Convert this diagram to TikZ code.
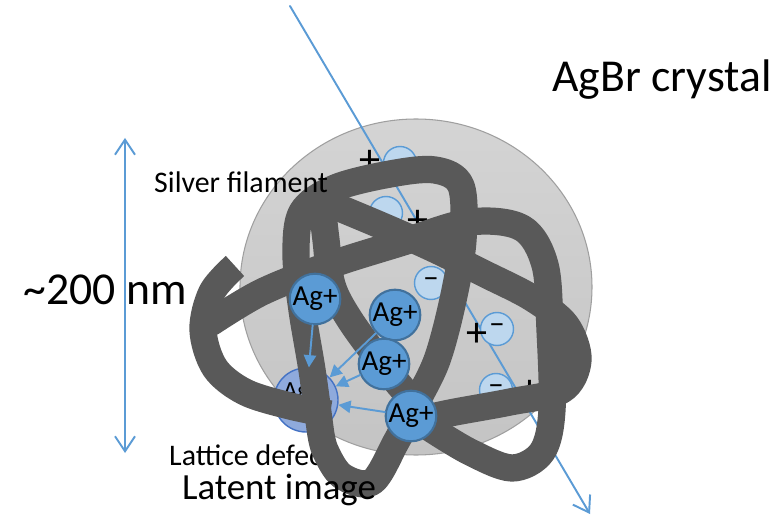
\documentclass[tikz,border=0pt]{standalone}
\usepackage{fontspec}
\setmainfont{Carlito}
\usetikzlibrary{arrows.meta}
\definecolor{rayblue}{HTML}{5B9BD5}
\definecolor{ionedge}{HTML}{41719C}
\definecolor{holeblue}{HTML}{BDD7EE}
\definecolor{latentfill}{HTML}{8FAADC}
\definecolor{latentedge}{HTML}{4472C4}
\definecolor{filgray}{HTML}{595959}
\definecolor{grainhi}{HTML}{D4D4D4}
\definecolor{grainlo}{HTML}{C4C4C4}

\begin{document}
\begin{tikzpicture}[x=0.02cm,y=-0.02cm,line cap=round,
  ion/.style={circle,draw=ionedge,fill=rayblue,line width=1.2pt,minimum size=0.92cm,inner sep=0pt,font=\fontsize{16.5}{16.5}\selectfont},
  hole/.style={circle,draw=rayblue,fill=holeblue,line width=0.8pt,minimum size=0.66cm,inner sep=0pt,font=\fontsize{18}{18}\selectfont},
  sign/.style={inner sep=0pt,font=\fontsize{24}{24}\selectfont},
  filament/.style={draw=filgray,line width=15.5pt,line join=round},
  ray/.style={draw=rayblue,line width=1.1pt},
  drift/.style={draw=rayblue,line width=1.1pt,-{Triangle[length=7pt,width=7pt]}}]
\useasboundingbox (0,0) rectangle (782,517);

% crystal grain and the light path through it
\shade[top color=grainhi,bottom color=grainlo,draw=gray!75,line width=0.6pt]
  (416,287) ellipse [x radius=176, y radius=168];
\coordinate (rayin) at (290,6);
\coordinate (rayout) at (590,514);
\draw[ray,-{Straight Barb[length=3mm,width=4mm]}] (rayin) -- (rayout);

% electron / hole pairs
\node[hole] (h1) at (400,163) {};
\node[sign] at (370,162) {+};
\node[hole] (h2) at (386,213) {};
\node[sign] at (418,222) {+};
\node[hole] (h3) at (431,283) {--};
\node[hole] (h4) at (497,329) {--};
\node[sign] at (477,335) {+};
\node[hole] (h5) at (496,390) {--};
\node[sign] at (530,392) {+};

% latent image on the lattice defect
\node[circle,draw=latentedge,fill=latentfill,line width=0.8pt,minimum size=1.28cm] (latent) at (306,400) {};
\node[font=\fontsize{14}{14}\selectfont] (latentag) at (296,393) {Ag};
\node[font=\fontsize{17}{17}\selectfont,anchor=west] (defect) at (163,455) {Lattice defect};

% the filament
\draw[filament,line cap=butt] plot[smooth,tension=0.55] coordinates {
  (235,266) (212,292) (203,330) (215,368) (245,392) (290,406) (330,414)};
\draw[filament] plot[smooth,tension=0.55] coordinates {
  (320,428) (312,370) (302,310) (296,255) (302,212) (335,188) (390,174)
  (435,170) (461,186) (463,240) (453,300) (437,360) (415,405) (396,442)
  (372,482) (342,476) (325,450) (320,428)};
\draw[filament] plot[smooth,tension=0.55] coordinates {
  (212,322) (262,292) (330,265) (400,243) (470,222) (522,228) (545,265)
  (550,330) (552,410) (542,452) (512,468) (470,452) (430,428)};
\draw[filament] plot[smooth,tension=0.55] coordinates {
  (320,200) (380,225) (432,248) (485,274) (532,298) (566,325) (578,360)
  (562,390) (510,402) (450,413) (410,422)};
\draw[filament] plot[smooth,tension=0.55] coordinates {
  (322,205) (326,240) (332,285) (350,320) (383,365) (412,400)};

% silver ions drifting to the defect
\node[ion] (ag1) at (315,299) {Ag+};
\node[ion] (ag2) at (395,315) {Ag+};
\node[ion] (ag3) at (384,364) {Ag+};
\node[ion] (ag4) at (411,416) {Ag+};
\draw[drift] (ag1) -- (latent);
\draw[drift] (ag2) -- (latent);
\draw[drift] (ag3) -- (latent);
\draw[drift] (ag4) -- (latent);

% labels and scale
\coordinate (scaletop) at (125,138);
\coordinate (scalebot) at (125,453);
\draw[ray,{Straight Barb[length=3mm,width=4mm]}-{Straight Barb[length=3mm,width=4mm]}] (scaletop) -- (scalebot);
\node[font=\fontsize{26}{26}\selectfont] (size) at (105,290) {\textasciitilde 200 nm};
\node[font=\fontsize{26}{26}\selectfont] (grain) at (662,80) {AgBr crystal};
\node[font=\fontsize{17}{17}\selectfont,anchor=west] (silver) at (148,182) {Silver filament};
\node[font=\fontsize{21}{21}\selectfont] (latentlbl) at (279,490) {Latent image};
\end{tikzpicture}
\end{document}
